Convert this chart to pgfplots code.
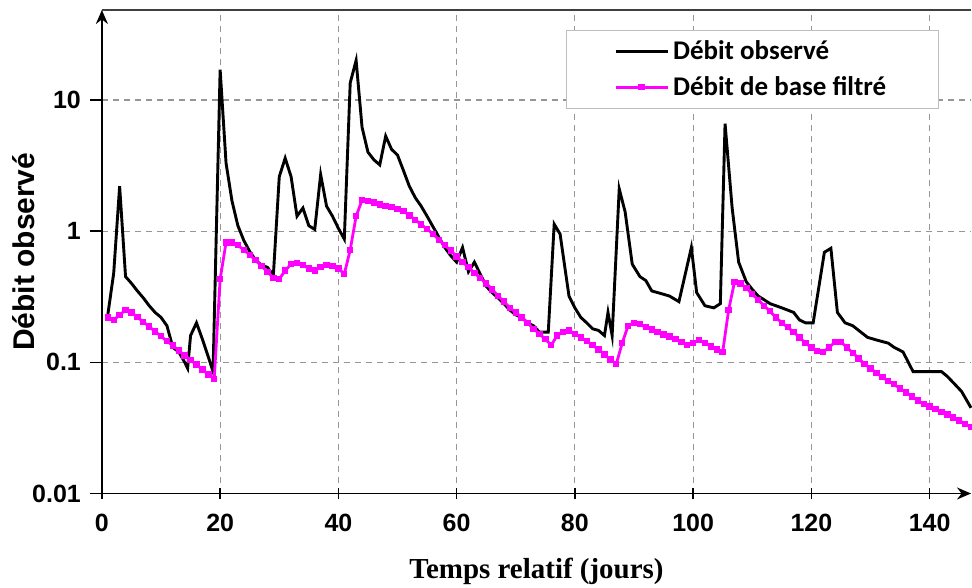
\documentclass[border=0pt]{standalone}
\usepackage{fontspec}
\setmainfont{Liberation Sans}
\newfontfamily\timesfont{Liberation Serif}
\newfontfamily\calibri{Carlito}
\usepackage{pgfplots}
\usepackage{pgfplotstable}
\pgfplotsset{compat=1.18}
\usetikzlibrary{arrows.meta,calc}

\pgfplotstableread{
x y
1 0.23
2 0.48
3 2.2
4 0.45
5 0.40
6 0.35
7 0.31
8 0.27
9 0.24
10 0.22
11 0.19
12 0.13
13 0.12
14 0.10
14.5 0.09
15 0.16
16 0.20
17 0.15
18 0.11
18.8 0.085
20 17
21 3.3
22 1.7
23 1.1
24 0.85
25 0.70
26 0.60
27 0.55
28 0.53
29 0.46
30 2.6
31 3.6
32 2.6
33 1.3
34 1.5
35 1.1
36 1.03
37 2.7
38 1.55
39 1.3
40 1.05
41 0.87
42 13.5
43 20
44 6.2
45 4.0
46 3.5
47 3.2
48 5.3
49 4.2
50 3.8
51 2.9
52 2.2
53 1.8
54 1.55
55 1.3
56 1.08
57 0.90
58 0.75
59 0.65
60 0.58
61 0.75
62 0.49
63 0.58
64 0.47
65 0.38
66 0.34
67 0.31
68 0.28
69 0.25
70 0.23
71 0.22
72 0.20
73 0.19
74 0.17
75.5 0.17
76.5 1.13
77.5 0.95
79 0.32
80 0.26
81 0.22
82 0.20
83 0.18
84 0.175
85 0.16
85.6 0.24
86.3 0.16
87.5 2.1
88.5 1.4
89.7 0.56
91 0.45
92 0.42
93 0.35
94 0.34
95 0.33
96 0.32
97.6 0.29
99.7 0.75
100.6 0.34
102 0.27
103.5 0.26
104.6 0.28
105.4 6.6
106.6 1.5
107.7 0.58
109 0.41
110 0.36
111 0.32
112 0.30
113 0.28
114 0.27
115 0.26
116 0.25
117 0.24
118 0.21
119 0.20
120.3 0.20
122.2 0.69
123.3 0.74
124.4 0.24
125.7 0.20
127 0.19
128 0.175
129.5 0.155
131 0.148
133 0.14
134 0.13
135.5 0.12
137.2 0.085
142 0.085
143 0.078
144 0.07
145.4 0.06
147 0.045
}\observed

\pgfplotstableread{
x y
1 0.22
2 0.21
3 0.23
4 0.25
5 0.24
6 0.221
7 0.203
8 0.187
9 0.172
10 0.158
11 0.145
12 0.134
13 0.123
14 0.113
15 0.104
16 0.096
17 0.088
18 0.081
19 0.075
20 0.43
21 0.82
22 0.82
23 0.78
24 0.72
25 0.66
26 0.60
27 0.54
28 0.49
29 0.44
30 0.43
31 0.50
32 0.56
33 0.57
34 0.55
35 0.52
36 0.50
37 0.53
38 0.55
39 0.54
40 0.52
41 0.47
42 0.72
43 1.30
44 1.72
45 1.70
46 1.65
47 1.60
48 1.55
49 1.52
50 1.48
51 1.42
52 1.32
53 1.22
54 1.12
55 1.04
56 0.95
57 0.86
58 0.78
59 0.71
60 0.64
61 0.58
62 0.53
63 0.48
64 0.44
65 0.40
66 0.36
67 0.32
68 0.29
69 0.26
70 0.24
71 0.22
72 0.20
73 0.18
74 0.165
75 0.15
76 0.135
77 0.16
78 0.17
79 0.175
80 0.165
81 0.155
82 0.145
83 0.135
84 0.125
85 0.115
86 0.105
87 0.097
88 0.14
89 0.19
90 0.20
91 0.195
92 0.185
93 0.178
94 0.17
95 0.163
96 0.157
97 0.15
98 0.143
99 0.135
100 0.14
101 0.148
102 0.14
103 0.132
104 0.125
105 0.12
106 0.25
107 0.41
108 0.40
109 0.37
110 0.33
111 0.30
112 0.27
113 0.245
114 0.22
115 0.20
116 0.185
117 0.17
118 0.155
119 0.14
120 0.13
121 0.122
122 0.12
123 0.13
124 0.143
125 0.143
126 0.13
127 0.118
128 0.107
129 0.097
130 0.09
131 0.083
132 0.077
133 0.072
134 0.068
135 0.063
136 0.059
137 0.055
138 0.051
139 0.048
140 0.046
141 0.044
142 0.042
143 0.040
144 0.038
145 0.036
146 0.034
147 0.032
}\baseflow

\definecolor{gridgray}{RGB}{150,150,150}
\definecolor{legbord}{RGB}{190,190,190}

\begin{document}
\begin{tikzpicture}
\begin{axis}[
  scale only axis,
  width=435pt, height=242pt,
  xmin=0, xmax=147,
  ymode=log, ymin=0.01, ymax=48.5,
  log basis y=10,
  axis lines=left,
  x axis line style={line width=0.9pt, -{Stealth[length=7pt,width=6pt]}},
  y axis line style={line width=0.9pt, -{Stealth[length=7pt,width=6pt]}},
  xtick={0,20,...,140},
  ytick={0.01,0.1,1,10},
  yticklabels={0.01,0.1,1,10},
  minor ytick={},
  grid=major,
  major grid style={gridgray, line width=0.6pt, dash pattern=on 3pt off 2.5pt},
  tick style={black, line width=0.8pt},
  major tick length=6pt,
  xtick align=center,
  ytick align=outside,
  tick label style={font=\bfseries\fontsize{12.5}{14}\selectfont},
  /pgf/number format/assume math mode=true,
  yticklabel style={xshift=-1pt},
  xticklabel style={yshift=-4pt},
  xlabel={\timesfont\bfseries\fontsize{14.5}{16}\selectfont Temps relatif (jours)},
  ylabel={\bfseries\fontsize{15}{17}\selectfont Débit observé},
  xlabel style={yshift=-6pt},
  ylabel style={yshift=-8pt},
  clip=false,
  legend style={
    at={(rel axis cs:0.963,0.959)}, anchor=north east,
    draw=legbord, line width=0.6pt,
    font=\calibri\bfseries\fontsize{13.5}{16}\selectfont,
    inner xsep=24pt, inner ysep=3pt,
    row sep=3pt,
    cells={anchor=west},
  },
  legend image code/.code={%
    \draw[mark repeat=2,mark phase=2,#1] plot coordinates {(0pt,0pt) (13pt,0pt) (26pt,0pt)};},
]
\addplot[black, line width=1.45pt, mark=none] table[x=x,y=y] {\observed};
\addlegendentry{Débit observé}
\addplot[color={rgb,255:red,255;green,0;blue,255}, line width=1.4pt, mark=square*, mark size=0.9pt] table[x=x,y=y] {\baseflow};
\addlegendentry{Débit de base filtré}
\draw[black!75, line width=1pt] (rel axis cs:0,1) -- (rel axis cs:1,1);
\coordinate (BL) at (rel axis cs:0,0);
\coordinate (TR) at (rel axis cs:1,1);
\end{axis}
\pgfresetboundingbox
\path[use as bounding box] ($(BL)+(-51pt,-47pt)$) rectangle ($(TR)+(0.5pt,5pt)$);
\end{tikzpicture}
\end{document}
